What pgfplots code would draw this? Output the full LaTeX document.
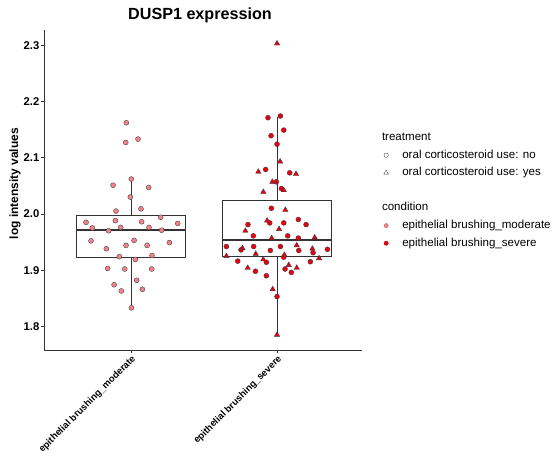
\documentclass[border=0pt]{standalone}
\usepackage{fontspec}
\setmainfont{Liberation Sans}
\usepackage{pgfplots}
\pgfplotsset{compat=1.18}

\definecolor{moderate}{HTML}{F2818B}
\definecolor{severe}{HTML}{E60012}
\definecolor{boxline}{HTML}{333333}
\definecolor{edge}{HTML}{3A3A3A}

% moderate brushing: all samples without oral corticosteroids
\pgfplotstableread{
x y
-0.032 2.162
-0.036 2.127
0.048 2.133
0.002 2.062
-0.123 2.051
0.121 2.047
-0.005 2.030
0.068 2.009
-0.103 2.005
0.203 1.994
-0.308 1.985
-0.107 1.988
0.073 1.986
0.320 1.983
-0.265 1.975
-0.071 1.976
0.123 1.976
0.210 1.971
-0.153 1.970
-0.274 1.952
0.021 1.953
-0.034 1.944
0.110 1.944
0.263 1.949
-0.169 1.938
-0.080 1.924
0.144 1.926
0.030 1.919
-0.160 1.903
-0.043 1.902
0.142 1.902
0.039 1.882
-0.116 1.874
0.078 1.866
-0.066 1.863
0.002 1.833
}\moderateNo

% severe brushing, no oral corticosteroids
\pgfplotstableread{
x y
0.938 2.171
1.023 2.174
1.046 2.149
0.959 2.139
1.000 2.124
0.922 2.079
1.087 2.073
0.995 2.057
1.030 2.045
0.961 2.010
0.950 1.984
1.046 1.984
1.146 1.990
1.199 1.981
0.801 1.981
0.838 1.961
1.073 1.961
1.146 1.957
0.653 1.942
0.753 1.936
0.840 1.942
0.954 1.935
1.023 1.942
1.149 1.935
1.247 1.931
1.345 1.937
1.046 1.923
0.927 1.914
0.731 1.916
1.228 1.915
0.852 1.898
0.927 1.890
1.055 1.902
1.098 1.896
1.000 1.853
}\severeNo

% severe brushing, oral corticosteroid use
\pgfplotstableread{
x y
1.000 2.303
1.021 2.093
0.872 2.075
1.130 2.071
0.968 2.057
1.046 2.042
0.906 2.039
1.057 2.007
0.932 1.988
0.783 1.970
1.014 1.973
0.963 1.957
1.258 1.958
0.763 1.939
1.135 1.944
1.242 1.938
0.653 1.925
0.854 1.929
1.050 1.927
0.906 1.919
1.288 1.921
0.799 1.904
1.080 1.909
1.135 1.904
0.970 1.866
1.000 1.785
}\severeYes

% box summaries: position, lower whisker, Q1, median, Q3, upper whisker
\pgfplotstableread{
pos lw q1 med q3 uw
0 1.833 1.923 1.971 1.997 2.062
1 1.785 1.924 1.954 2.024 2.172
}\boxstats

\begin{document}
\begin{tikzpicture}[x=1bp,y=1bp]
\useasboundingbox (0,0) rectangle (553,460);
\begin{axis}[
  at={(44bp,110bp)}, anchor=south west,
  scale only axis, width=318bp, height=320bp,
  xmin=-0.596, xmax=1.582, ymin=1.758, ymax=2.327,
  axis x line*=bottom, axis y line*=left,
  axis line style={black!80, line width=0.6bp, -},
  tick align=outside, major tick length=3bp,
  tick style={black!80, line width=0.6bp},
  xtick={0,1},
  xticklabels={epithelial brushing\_moderate, epithelial brushing\_severe},
  ytick={1.8,1.9,2.0,2.1,2.2,2.3},
  /pgf/number format/assume math mode=true,
  /pgf/number format/fixed,
  /pgf/number format/fixed zerofill,
  /pgf/number format/precision=1,
  yticklabel style={font=\fontsize{11.3}{13}\selectfont\bfseries, inner sep=1.5bp},
  xticklabel style={font=\fontsize{9.5}{11}\selectfont\bfseries, rotate=45, anchor=north east, inner sep=1bp},
  legend style={
    at={(axis description cs:1.0686,0.6828)}, anchor=north west,
    draw=none, fill=none, inner sep=0pt, outer sep=0pt,
    font=\fontsize{11.6}{13}\selectfont,
    row sep=5.4bp, column sep=13.8bp,
    nodes={text height=9bp, text depth=3.2bp, inner sep=0pt},
    cells={anchor=west},
  },
  legend image code/.code={\draw[#1] plot coordinates {(0bp,0bp)};},
]
% boxes sit underneath the jittered samples
\pgfplotsinvokeforeach{0,1}{
  \pgfplotstablegetelem{#1}{lw}\of\boxstats \let\lw\pgfplotsretval
  \pgfplotstablegetelem{#1}{q1}\of\boxstats \let\qa\pgfplotsretval
  \pgfplotstablegetelem{#1}{med}\of\boxstats \let\md\pgfplotsretval
  \pgfplotstablegetelem{#1}{q3}\of\boxstats \let\qc\pgfplotsretval
  \pgfplotstablegetelem{#1}{uw}\of\boxstats \let\uw\pgfplotsretval
  \edef\drawbox{%
    \noexpand\addplot[draw=boxline, line width=0.7bp, forget plot]
      coordinates {(#1,\lw) (#1,\qa)};
    \noexpand\addplot[draw=boxline, line width=0.7bp, forget plot]
      coordinates {(#1,\qc) (#1,\uw)};
    \noexpand\addplot[draw=boxline, fill=white, line width=0.7bp, line join=miter, forget plot]
      coordinates {(#1-0.375,\qa) (#1+0.375,\qa) (#1+0.375,\qc) (#1-0.375,\qc) (#1-0.375,\qa)} -- cycle;
    \noexpand\addplot[draw=boxline, line width=1.9bp, forget plot]
      coordinates {(#1-0.375,\md) (#1+0.375,\md)};
  }\drawbox
}

\addplot[only marks, mark=*, mark size=2.5bp,
  mark options={fill=moderate, draw=edge, line width=0.35bp}, forget plot]
  table[x=x, y=y] {\moderateNo};
\addplot[only marks, mark=*, mark size=2.5bp,
  mark options={fill=severe, draw=edge, line width=0.35bp}, forget plot]
  table[x=x, y=y] {\severeNo};
\addplot[only marks, mark=triangle*, mark size=3.1bp,
  mark options={fill=severe, draw=edge, line width=0.35bp}, forget plot]
  table[x=x, y=y] {\severeYes};

% legend: shape by treatment, colour by condition
\addlegendimage{empty legend}
\addlegendentry{\hspace*{-20.3bp}treatment}
\addlegendimage{only marks, mark=o, mark size=2.2bp, draw=black!70, line width=0.4bp}
\addlegendentry{oral corticosteroid use: no}
\addlegendimage{only marks, mark=triangle, mark size=2.7bp, draw=black!70, line width=0.4bp}
\addlegendentry{oral corticosteroid use: yes}
\addlegendimage{empty legend}
\addlegendentry{}
\addlegendimage{empty legend}
\addlegendentry{\hspace*{-20.3bp}condition}
\addlegendimage{only marks, mark=*, mark size=2.2bp, fill=moderate, draw=moderate!80!black, line width=0.3bp}
\addlegendentry{epithelial brushing\_moderate}
\addlegendimage{only marks, mark=*, mark size=2.2bp, fill=severe, draw=severe!80!black, line width=0.3bp}
\addlegendentry{epithelial brushing\_severe}
\end{axis}

\node[font=\fontsize{16.2}{19}\selectfont\bfseries] at (200,445) {DUSP1 expression};
\node[font=\fontsize{12}{14}\selectfont\bfseries, rotate=90] at (15,276.3) {log intensity values};
\end{tikzpicture}
\end{document}
